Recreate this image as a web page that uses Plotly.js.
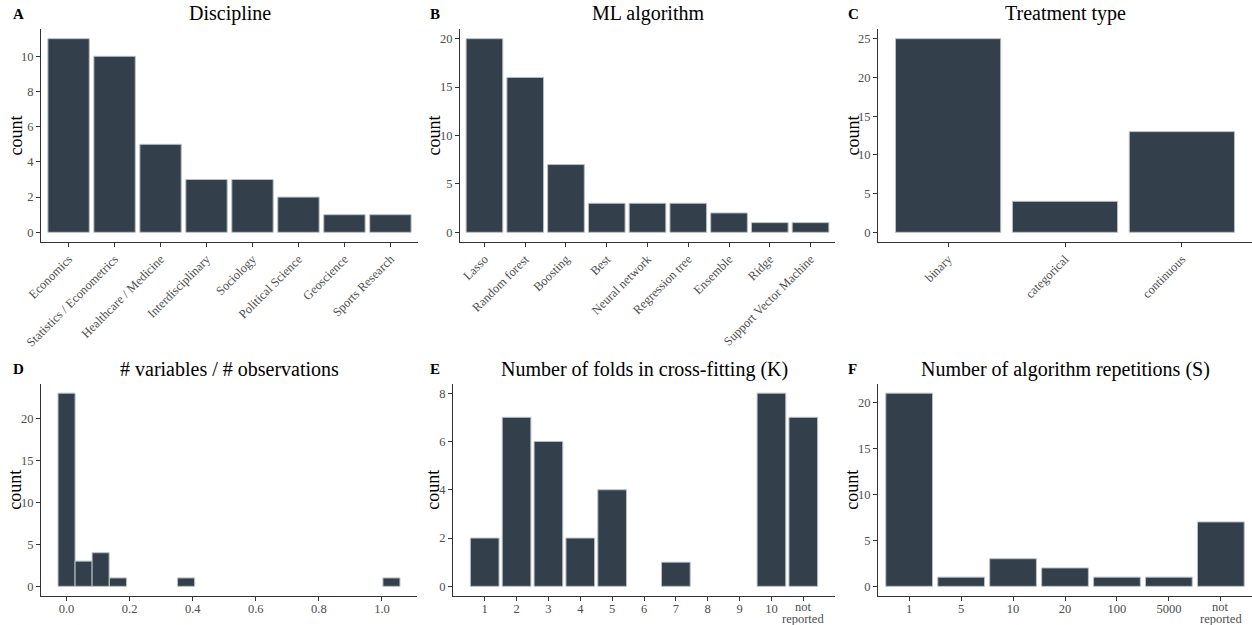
<!DOCTYPE html>
<html>
<head>
<meta charset="utf-8">
<script src="https://cdn.plot.ly/plotly-3.0.1.min.js"></script>
<style>html,body{margin:0;padding:0;background:#fff;}#chart{width:1252px;height:625px;}</style>
</head>
<body>
<div id="chart"></div>
<script>
// ---- Data ----
const disciplineCats = ['Economics','Statistics / Econometrics','Healthcare / Medicine','Interdisciplinary','Sociology','Political Science','Geoscience','Sports Research'];
const disciplineCounts = [11,10,5,3,3,2,1,1];

const algoCats = ['Lasso','Random forest','Boosting','Best','Neural network','Regression tree','Ensemble','Ridge','Support Vector Machine'];
const algoCounts = [20,16,7,3,3,3,2,1,1];

const treatCats = ['binary','categorical','continuous'];
const treatCounts = [25,4,13];

const ratioBinCenters = [0.0, 0.054, 0.108, 0.163, 0.379, 1.03];
const ratioCounts = [23,3,4,1,1,1];
const ratioBinWidth = 0.054;

const foldsPos = [1,2,3,4,5,7,10,11];
const foldsCounts = [2,7,6,2,4,1,8,7];
const foldsTickVals = [1,2,3,4,5,6,7,8,9,10,11];
const foldsTickText = ['1','2','3','4','5','6','7','8','9','10','not reported'];

const repCats = ['1','5','10','20','100','5000','not reported'];
const repCounts = [21,1,3,2,1,1,7];

const panelLetters = ['A','B','C','D','E','F'];
const panelTitles = ['Discipline','ML algorithm','Treatment type','# variables / # observations','Number of folds in cross-fitting (K)','Number of algorithm repetitions (S)'];

// ---- Styling ----
const W = 1252, H = 625;
const FONT = 'Liberation Serif, Times New Roman, serif';
const FILL = '#333f4a';
const EDGE = '#b9c0c6';
const TICKCOL = '#4d4d4d';
const px = v => v / W;
const py = v => 1 - v / H;

function bar(x, y, xa, ya, width) {
  const t = {type:'bar', x:x, y:y, xaxis:xa, yaxis:ya,
    marker:{color:FILL, line:{color:EDGE, width:1}}, hoverinfo:'skip', showlegend:false};
  if (width !== undefined) t.width = width;
  return t;
}

const data = [
  bar(disciplineCats, disciplineCounts, 'x', 'y', 0.9),
  bar(algoCats, algoCounts, 'x2', 'y2', 0.9),
  bar(treatCats, treatCounts, 'x3', 'y3', 0.9),
  bar(ratioBinCenters, ratioCounts, 'x4', 'y4', ratioBinWidth),
  bar(foldsPos, foldsCounts, 'x5', 'y5', 0.9),
  bar(repCats, repCounts, 'x6', 'y6', 0.9)
];

const tickFont = {family:FONT, size:12.5, color:TICKCOL};
function xax(dom, anchor, extra) {
  return Object.assign({domain:[px(dom[0]), px(dom[1])], anchor:anchor,
    showline:true, linecolor:'#333333', linewidth:1, showgrid:false, zeroline:false,
    ticks:'outside', ticklen:4, tickcolor:'#333333', tickwidth:1,
    tickfont:tickFont, fixedrange:true}, extra);
}
function yax(dom, anchor, extra) {
  return Object.assign({domain:[py(dom[1]), py(dom[0])], anchor:anchor,
    showline:true, linecolor:'#333333', linewidth:1, showgrid:false, zeroline:false,
    ticks:'outside', ticklen:4, tickcolor:'#333333', tickwidth:1,
    tickfont:tickFont, fixedrange:true}, extra);
}

const row1 = [29, 242];
const row2 = [383.5, 596];
const cols1 = [[41,418],[460,835],[878,1252]];
const cols2 = [[41,417],[453,835],[878,1252]];

// two-line labels ("not reported") are drawn as annotations below the tick
const splitLast = arr => arr.map((t, i) => i === arr.length - 1 ? '' : t);

const layout = {
  width:W, height:H, margin:{l:0,r:0,t:0,b:0},
  paper_bgcolor:'#ffffff', plot_bgcolor:'#ffffff',
  font:{family:FONT}, bargap:0,
  xaxis: xax(cols1[0], 'y', {type:'category', range:[-0.6,7.6], tickangle:-45}),
  yaxis: yax(row1, 'x', {range:[-0.55,11.55], dtick:2, tick0:0}),
  xaxis2: xax(cols1[1], 'y2', {type:'category', range:[-0.6,8.6], tickangle:-45}),
  yaxis2: yax(row1, 'x2', {range:[-1,21], dtick:5, tick0:0}),
  xaxis3: xax(cols1[2], 'y3', {type:'category', range:[-0.6,2.6], tickangle:-45}),
  yaxis3: yax(row1, 'x3', {range:[-1.25,26.25], dtick:5, tick0:0}),
  xaxis4: xax(cols2[0], 'y4', {type:'linear', range:[-0.081,1.111], dtick:0.2, tick0:0, tickformat:'.1f', ticklabelstandoff:-3}),
  yaxis4: yax(row2, 'x4', {range:[-1.15,24.15], dtick:5, tick0:0}),
  xaxis5: xax(cols2[1], 'y5', {type:'linear', range:[0.005,11.995], tickmode:'array', tickvals:foldsTickVals, ticktext:splitLast(foldsTickText), tickangle:0, ticklabelstandoff:-3}),
  yaxis5: yax(row2, 'x5', {range:[-0.4,8.4], dtick:2, tick0:0}),
  xaxis6: xax(cols2[2], 'y6', {type:'category', range:[-0.6,6.6], tickmode:'array', tickvals:repCats, ticktext:splitLast(repCats), tickangle:0, ticklabelstandoff:-3}),
  yaxis6: yax(row2, 'x6', {range:[-1.05,22.05], dtick:5, tick0:0}),
  annotations: []
};

const cols = [cols1[0], cols1[1], cols1[2], cols2[0], cols2[1], cols2[2]];
const rows = [row1, row1, row1, row2, row2, row2];
const letterX = [11, 428, 846, 11, 428, 846];
const countX = [15, 433, 852, 15, 433, 852];
panelTitles.forEach((t, i) => {
  const titleY = i < 3 ? 14 : 369;
  const c = cols[i], r = rows[i];
  layout.annotations.push({text:t, xref:'paper', yref:'paper', x:px((c[0]+c[1])/2), y:py(titleY),
    xanchor:'center', yanchor:'middle', showarrow:false, font:{family:FONT, size:20, color:'#000'}});
  layout.annotations.push({text:'<b>'+panelLetters[i]+'</b>', xref:'paper', yref:'paper', x:px(letterX[i]), y:py(titleY),
    xanchor:'left', yanchor:'middle', showarrow:false, font:{family:FONT, size:15, color:'#000'}});
  layout.annotations.push({text:'count', xref:'paper', yref:'paper', x:px(countX[i]), y:py((r[0]+r[1])/2),
    xanchor:'center', yanchor:'middle', textangle:-90, showarrow:false, font:{family:FONT, size:18, color:'#000'}});
});

// "not reported" labels, one annotation per line, tightly spaced
function twoLine(label, xref, xval) {
  label.split(' ').forEach((line, k) => {
    layout.annotations.push({text:line, xref:xref, yref:'paper', x:xval, y:py(606.5 + k * 12),
      xanchor:'center', yanchor:'middle', showarrow:false, font:tickFont});
  });
}
twoLine(foldsTickText[foldsTickText.length - 1], 'x5', foldsTickVals[foldsTickVals.length - 1]);
twoLine(repCats[repCats.length - 1], 'x6', repCats.length - 1);

Plotly.newPlot('chart', data, layout, {staticPlot:true, displayModeBar:false});
</script>
</body>
</html>
